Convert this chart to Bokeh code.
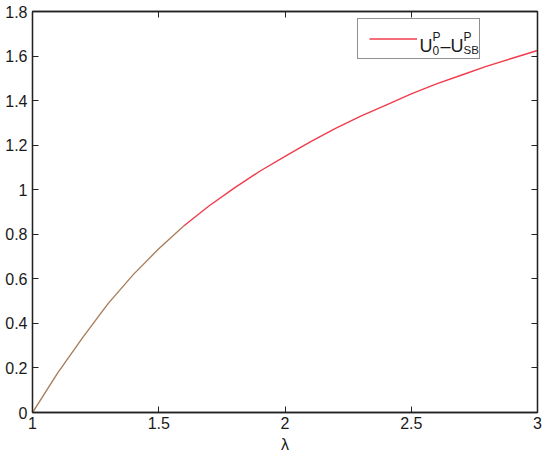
from bokeh.plotting import figure
from bokeh.models import (Range1d, LinearAxis, FixedTicker, Legend, LegendItem, Label,
                          CustomLabelingPolicy)
from bokeh.core.properties import value
from bokeh.embed import file_html
from bokeh.resources import INLINE

# ---- data ----
lam = [1.0, 1.1, 1.2, 1.3, 1.4, 1.5, 1.6, 1.7, 1.8, 1.9, 2.0,
       2.1, 2.2, 2.3, 2.4, 2.5, 2.6, 2.7, 2.8, 2.9, 3.0]
diff = [0.0, 0.178, 0.338, 0.49, 0.62, 0.735, 0.838, 0.928, 1.008, 1.083, 1.15,
        1.215, 1.275, 1.33, 1.38, 1.43, 1.475, 1.515, 1.555, 1.59, 1.625]
x_ticks = [1, 1.5, 2, 2.5, 3]
x_tick_labels = ["1", "1.5", "2", "2.5", "3"]
y_ticks = [0, 0.2, 0.4, 0.6, 0.8, 1, 1.2, 1.4, 1.6, 1.8]
y_tick_labels = ["0", "0.2", "0.4", "0.6", "0.8", "1", "1.2", "1.4", "1.6", "1.8"]
x_label = "λ"

FONT = "Liberation Sans"
INK = "#1a1a1a"
AX = "#222222"

p = figure(width=546, height=458, x_range=Range1d(1, 3), y_range=Range1d(0, 1.8),
           output_backend="svg", toolbar_location=None,
           min_border_left=32, min_border_right=9, min_border_top=11, min_border_bottom=46)
p.grid.visible = False
p.outline_line_color = AX
p.outline_line_width = 1.3
p.background_fill_color = "white"
p.border_fill_color = "white"

p.add_layout(LinearAxis(), "above")
p.add_layout(LinearAxis(), "right")

for ax in p.xaxis:
    ax.ticker = FixedTicker(ticks=x_ticks)
    ax.major_label_overrides = dict(zip(x_ticks, x_tick_labels))
for ax in p.yaxis:
    ax.ticker = FixedTicker(ticks=y_ticks)
    ax.major_label_overrides = dict(zip(y_ticks, y_tick_labels))

for ax in list(p.xaxis) + list(p.yaxis):
    ax.major_tick_in = 6
    ax.major_tick_out = 0
    ax.minor_tick_line_color = None
    ax.axis_line_color = AX
    ax.axis_line_width = 1.3
    ax.major_tick_line_color = AX
    ax.major_tick_line_width = 1
    ax.major_label_text_font = FONT
    ax.major_label_text_font_size = "16px"
    ax.major_label_text_color = INK
    ax.major_label_standoff = 4

p.left[0].major_label_standoff = 5

# mirror axes on top/right: ticks only, no labels
for ax in (p.above[0], p.right[0]):
    ax.major_label_text_font_size = "0px"
    ax.major_label_standoff = 0
    ax.major_label_policy = CustomLabelingPolicy(code="return false")

p.below[0].axis_label = x_label
p.below[0].axis_label_text_font = FONT
p.below[0].axis_label_text_font_size = "16px"
p.below[0].axis_label_text_font_style = "normal"
p.below[0].axis_label_text_color = INK
p.below[0].axis_label_standoff = 4

r1 = p.line(lam[:7], diff[:7], line_color="#a97f5c", line_width=1.4)
r2 = p.line(lam[6:], diff[6:], line_color="#f03c4c", line_width=1.4)

legend = Legend(items=[LegendItem(label=value(" "), renderers=[r2])],
                location=(325, 353), padding=11, spacing=0, margin=0,
                glyph_width=48, glyph_height=17, label_height=17, label_width=46,
                label_standoff=5, label_text_font_size="1px",
                border_line_color=AX, border_line_width=1.3,
                background_fill_alpha=0)
p.add_layout(legend)

# legend text  U_0^P - U_SB^P  built from text pieces
pieces = [
    ("U", 2.5327, 1.6458, "18px"),
    ("0", 2.5842, 1.6256, "12px"),
    ("P", 2.5842, 1.6863, "12px"),
    ("–", 2.6158, 1.6458, "18px"),
    ("U", 2.6554, 1.6458, "18px"),
    ("SB", 2.7069, 1.6256, "11.5px"),
    ("P", 2.7069, 1.6863, "12px"),
]
for txt, xx, yy, fs in pieces:
    p.add_layout(Label(x=xx, y=yy, x_units="data", y_units="data", text=txt,
                       text_font=FONT, text_font_size=fs,
                       text_color=INK, text_align="left", text_baseline="alphabetic"))

open("out.html", "w").write(file_html(p, INLINE))
